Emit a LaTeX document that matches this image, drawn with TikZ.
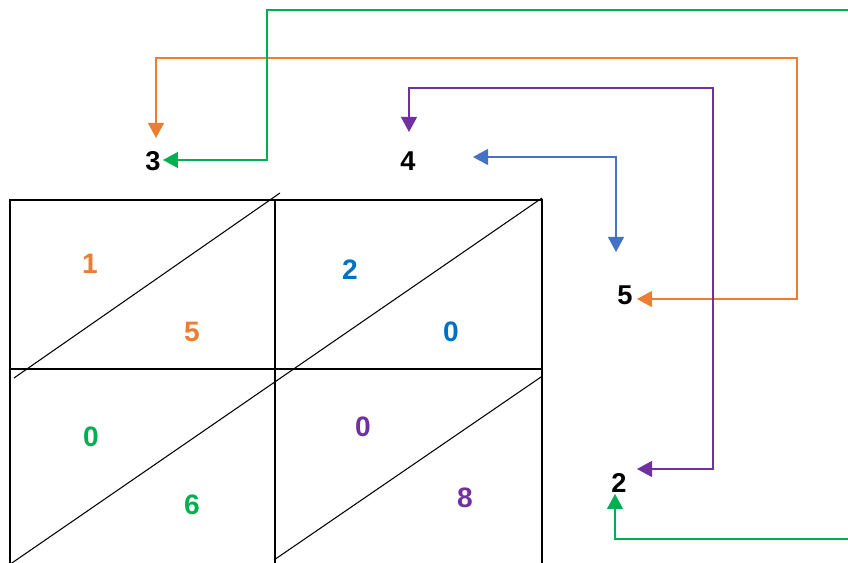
\documentclass[tikz,border=0pt]{standalone}
\usepackage{fontspec}
\setmainfont{Liberation Sans}
\usetikzlibrary{arrows.meta,calc}
\definecolor{lineorange}{HTML}{ED7D31}
\definecolor{linegreen}{HTML}{00B050}
\definecolor{linepurple}{HTML}{7030A0}
\definecolor{lineblue}{HTML}{4472C4}
\definecolor{digitblue}{HTML}{0070C0}
\tikzset{
  factor/.style={font=\fontsize{15.5}{18}\selectfont\bfseries, inner sep=0pt},
  partial/.style={font=\fontsize{16}{18}\selectfont\bfseries, inner sep=0pt},
  carry/.style={line width=0.6pt, {Triangle[length=0.3cm,width=0.32cm]}-{Triangle[length=0.3cm,width=0.32cm]}},
  grid line/.style={line width=0.6pt},
}
\begin{document}
\begin{tikzpicture}[x=0.02cm, y=0.02cm]
    \useasboundingbox (0,0) rectangle (848,563);
    \clip (0,0) rectangle (848,563);
    % Lattice frame and cell lines
    \draw[line width=1.2pt] (10,-3) -- (10,363) -- (542,363) -- (542,-3);
    \draw[grid line] (10,194) -- (542,194);
    \draw[grid line] (275,-3) -- (275,363);
    \draw[grid line] (14,185) -- (280,370);
    \draw[grid line] (542,365) -- (9,-2);
    \draw[grid line] (541,186) -- (274,3);
    % Factors
    \node[factor] (top3) at (153,402) {3};
    \node[factor] (top4) at (408,402) {4};
    \node[factor] (side5) at (625,268) {5};
    \node[factor] (side2) at (619,80) {2};
    % Partial products
    \foreach \n/\x/\y/\d/\c in {
        tl1/90/299/1/lineorange,
        tl2/192/231/5/lineorange,
        tr1/350/293/2/digitblue,
        tr2/451/231/0/digitblue,
        bl1/91/126/0/linegreen,
        bl2/192/58/6/linegreen,
        br1/363/136/0/linepurple,
        br2/465/65/8/linepurple} {
        \node[partial, text=\c] (\n) at (\x,\y) {\d};
    }
    % Bends of the connectors
    \coordinate (orange bend) at (797,505);
    \coordinate (green top) at (267,553);
    \coordinate (green far) at (870,24);
    \coordinate (purple bend) at (713,475);
    % Connectors
    \draw[carry, lineorange] ($(top3)+(3,23)$) |- (orange bend) |- ($(side5)+(12,-4)$);
    \draw[carry, linegreen] ($(top3)+(10,1)$) -| (green top) -| (green far) -| ($(side2)+(-4,-11)$);
    \draw[carry, linepurple] ($(top4)+(1,29)$) |- (purple bend) |- ($(side2)+(18,14)$);
    \draw[carry, lineblue] ($(top4)+(65,4)$) -| ($(side5)+(-9,43)$);
\end{tikzpicture}
\end{document}
